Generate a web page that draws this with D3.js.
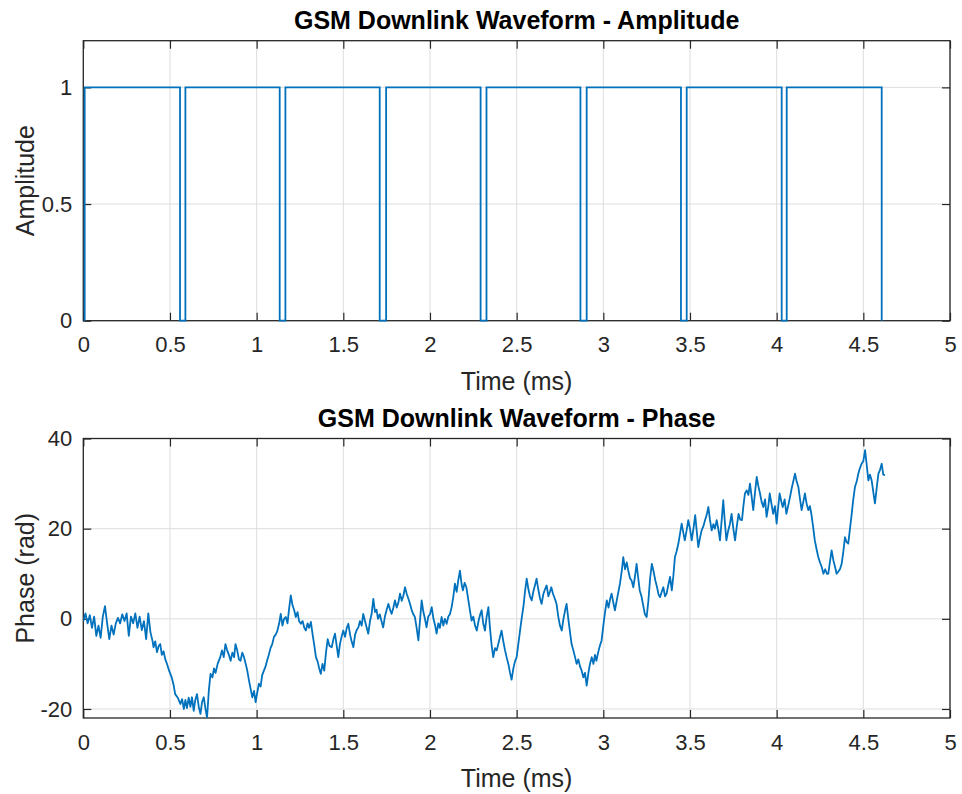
<!DOCTYPE html>
<html>
<head>
<meta charset="utf-8">
<script src="https://cdn.jsdelivr.net/npm/d3@7"></script>
<style>
  body { margin: 0; background: #fff; }
  svg { display: block; font-family: "Liberation Sans", Arial, Helvetica, sans-serif; }
  .tick text { fill: #262626; }
</style>
</head>
<body>
<svg id="chart" width="962" height="794"></svg>
<script>
// tick values (ms) shared by both plots
let timeTicks = [0, 0.5, 1, 1.5, 2, 2.5, 3, 3.5, 4, 4.5, 5]
let ampTicks = [0, 0.5, 1]
let phaseTicks = [-20, 0, 20, 40]

// burst on/off times (ms)
let burstStart = [0.008, 0.589, 1.166, 1.747, 2.326, 2.904, 3.481, 4.058]
let burstEnd = [0.558, 1.133, 1.710, 2.292, 2.868, 3.448, 4.029, 4.606]

// phase trace
let phaseT = [
  0.0, 0.0125, 0.025, 0.0375, 0.05, 0.0625, 0.075, 0.0875, 0.1, 0.1125, 0.125, 0.1375, 0.15, 0.1625, 0.175, 0.1875,
  0.2, 0.2125, 0.225, 0.2375, 0.25, 0.2625, 0.275, 0.2875, 0.3, 0.3125, 0.325, 0.3375, 0.35, 0.3625, 0.375, 0.3875, 0.4,
  0.405, 0.415, 0.425, 0.435, 0.444, 0.453, 0.463, 0.473, 0.483, 0.495, 0.51, 0.52, 0.53, 0.545, 0.56, 0.57, 0.58,
  0.589, 0.598, 0.608, 0.618, 0.627, 0.637, 0.646, 0.656, 0.666, 0.676, 0.685, 0.695, 0.705, 0.714, 0.724, 0.734,
  0.745, 0.754, 0.763, 0.775, 0.79, 0.80, 0.81, 0.82, 0.83, 0.84, 0.85, 0.86, 0.87, 0.878, 0.888, 0.898, 0.907,
  0.917, 0.927, 0.937, 0.946, 0.955, 0.965, 0.975, 0.985, 0.994, 1.003, 1.013, 1.023, 1.032, 1.042, 1.052, 1.06,
  1.07, 1.08, 1.09, 1.1, 1.11, 1.12, 1.13, 1.139, 1.149, 1.158, 1.168, 1.178, 1.188, 1.197, 1.207, 1.216, 1.226,
  1.236, 1.245, 1.255, 1.265, 1.275, 1.284, 1.294, 1.303, 1.313, 1.323, 1.333, 1.342, 1.352, 1.361, 1.37, 1.38,
  1.39, 1.40, 1.41, 1.42, 1.433, 1.443, 1.452, 1.462, 1.471, 1.481, 1.49, 1.5, 1.51, 1.52, 1.529, 1.539, 1.548,
  1.558, 1.568, 1.577, 1.587, 1.596, 1.606, 1.615, 1.625, 1.635, 1.644, 1.654, 1.663, 1.673, 1.683, 1.692, 1.70,
  1.71, 1.72, 1.73, 1.74, 1.75, 1.76, 1.77, 1.779, 1.789, 1.798, 1.808, 1.817, 1.827, 1.837, 1.846, 1.856, 1.866,
  1.875, 1.885, 1.894, 1.904, 1.913, 1.923, 1.933, 1.942, 1.952, 1.962, 1.971, 1.98, 1.99, 2.0, 2.01, 2.02, 2.03,
  2.038, 2.048, 2.057, 2.067, 2.077, 2.086, 2.096, 2.106, 2.115, 2.125, 2.135, 2.144, 2.154, 2.163, 2.173, 2.183,
  2.19, 2.2, 2.21, 2.22, 2.23, 2.24, 2.25, 2.26, 2.27, 2.28, 2.29, 2.298, 2.307, 2.317, 2.327, 2.337, 2.346, 2.356,
  2.365, 2.375, 2.385, 2.394, 2.404, 2.413, 2.423, 2.433, 2.442, 2.452, 2.462, 2.471, 2.481, 2.49, 2.5, 2.51, 2.52,
  2.53, 2.54, 2.548, 2.558, 2.568, 2.577, 2.587, 2.596, 2.606, 2.615, 2.625, 2.635, 2.644, 2.654, 2.663, 2.673,
  2.683, 2.692, 2.70, 2.71, 2.72, 2.73, 2.74, 2.75, 2.76, 2.77, 2.78, 2.788, 2.798, 2.808, 2.817, 2.827, 2.837,
  2.846, 2.856, 2.865, 2.875, 2.885, 2.894, 2.904, 2.914, 2.923, 2.933, 2.943, 2.952, 2.96, 2.97, 2.98, 2.99, 3.0,
  3.01, 3.02, 3.03, 3.04, 3.048, 3.058, 3.067, 3.077, 3.087, 3.096, 3.106, 3.115, 3.125, 3.135, 3.144, 3.154,
  3.163, 3.173, 3.183, 3.192, 3.2, 3.21, 3.22, 3.23, 3.24, 3.25, 3.26, 3.27, 3.28, 3.29, 3.3, 3.31, 3.318, 3.327,
  3.337, 3.346, 3.356, 3.365, 3.375, 3.385, 3.395, 3.404, 3.413, 3.423, 3.433, 3.443, 3.452, 3.462, 3.47, 3.48,
  3.49, 3.5, 3.51, 3.52, 3.53, 3.54, 3.548, 3.558, 3.567, 3.577, 3.587, 3.596, 3.606, 3.615, 3.625, 3.635, 3.644,
  3.654, 3.663, 3.673, 3.683, 3.692, 3.7, 3.71, 3.72, 3.73, 3.74, 3.75, 3.76, 3.77, 3.78, 3.79, 3.8, 3.808, 3.817,
  3.827, 3.837, 3.846, 3.856, 3.865, 3.875, 3.885, 3.894, 3.904, 3.913, 3.923, 3.933, 3.942, 3.952, 3.96, 3.97,
  3.98, 3.99, 4.0, 4.008, 4.017, 4.027, 4.035, 4.046, 4.056, 4.066, 4.077, 4.087, 4.096, 4.106, 4.115, 4.125,
  4.135, 4.144, 4.154, 4.163, 4.173, 4.183, 4.192, 4.2, 4.21, 4.22, 4.23, 4.24, 4.25, 4.26, 4.27, 4.28, 4.29,
  4.298, 4.307, 4.317, 4.327, 4.337, 4.346, 4.356, 4.365, 4.375, 4.385, 4.394, 4.404, 4.413, 4.423, 4.433, 4.442,
  4.452, 4.462, 4.471, 4.481, 4.49, 4.5, 4.51, 4.52, 4.529, 4.538, 4.548, 4.558, 4.567, 4.577, 4.587, 4.596,
  4.606, 4.615, 4.625
]
let phaseV = [
  -0.5, 1.2, -1.0, 0.8, -2.0, 0.5, -3.8, -1.5, -4.2, 0.5, 2.8, -1.0, -4.5, -1.5, -3.5, -1.0,
  0.2, -1.0, 1.0, -0.5, 1.2, -3.8, 0.5, -1.0, 1.2, -2.0, 0.5, -2.5, -0.5, -4.5, 1.2, -3.0, -5.0,
  -6.3, -5.0, -7.4, -6.0, -5.6, -8.0, -7.2, -9.0, -10.0, -11.5, -13.0, -14.5, -16.7, -17.5, -18.9, -17.8, -20.0,
  -18.0, -19.8, -17.5, -19.5, -17.4, -20.4, -18.0, -16.7, -19.5, -21.1, -18.5, -17.4, -20.0, -21.9, -16.0, -12.2,
  -13.0, -11.0, -12.0, -10.0, -8.5, -7.0, -8.5, -5.6, -7.0, -8.0, -9.3, -7.5, -8.5, -5.6, -7.0, -9.0, -9.3,
  -7.5, -8.5, -10.0, -11.5, -13.5, -15.5, -17.4, -16.0, -18.5, -16.5, -14.4, -15.0, -12.5, -11.5, -10.5, -9.3,
  -8.0, -6.5, -5.6, -4.0, -3.5, -2.6, -1.0, 1.1, -1.5, 0.0, 0.4, -1.0, 2.5, 5.2, 3.0, 2.0, 0.4,
  1.5, -0.5, -1.1, -0.5, -2.0, -2.6, -1.0, -2.0, -0.7, -3.5, -6.0, -8.5, -9.5, -11.0, -12.2, -10.0,
  -11.5, -7.5, -4.5, -6.0, -6.3, -4.5, -3.3, -6.0, -8.5, -5.5, -4.0, -2.6, -4.0, -2.0, -1.1, -3.5, -5.0,
  -6.3, -3.5, -2.5, -1.9, -0.5, -1.5, 1.1, -0.5, -2.0, -3.3, -0.5, 1.0, 4.4, 1.5, 2.0, 0.0,
  1.0, -0.5, -1.9, 0.5, 2.0, 3.3, 2.0, 1.1, 2.5, 4.1, 2.5, 3.5, 5.6, 4.0, 5.0, 7.0, 5.5,
  4.5, 3.3, 2.0, 1.0, 0.4, -2.0, -4.8, -0.5, 4.1, 1.5, 0.0, -1.9, 0.5, 1.0, 2.6, 0.0, -1.5,
  -3.3, -1.0, -2.0, 0.4, -1.5, 0.0, -1.1, 0.5, 1.0, 2.6, 5.0, 7.8, 6.0, 8.5, 10.7, 7.5,
  6.3, 8.0, 7.0, 4.5, 2.0, -0.4, 0.5, -1.5, -2.6, -0.5, 1.0, 1.9, -1.0, -2.6, 0.5, 2.6, -2.0, -6.0,
  -8.5, -6.5, -7.0, -5.6, -4.0, -2.6, -5.0, -7.0, -8.5, -10.0, -12.0, -13.5, -11.0, -9.5, -8.5, -5.5, -2.5,
  0.4, 3.0, 6.0, 8.9, 6.5, 5.0, 4.1, 6.0, 7.5, 8.9, 6.5, 4.5, 3.3, 5.5, 6.5, 7.4,
  5.0, 6.0, 7.0, 5.5, 4.5, 3.3, 0.5, -1.5, -2.6, 0.0, 2.0, 3.3, 0.0, -3.0, -5.6, -7.0, -8.5,
  -10.0, -9.0, -10.5, -11.5, -13.0, -12.0, -14.8, -12.0, -10.0, -8.5, -10.0, -8.0, -9.3, -7.5, -6.0, -4.8, -1.5,
  1.5, 4.1, 2.5, 4.5, 5.6, 3.5, 1.9, 4.0, 6.0, 7.8, 10.5, 13.7, 11.0, 12.5, 10.7, 9.0,
  8.5, 7.0, 9.5, 12.2, 9.5, 6.3, 5.0, 3.0, 1.0, 0.4, 4.0, 9.0, 12.2, 10.5, 8.5, 7.0, 5.5, 4.8,
  6.0, 7.0, 5.0, 5.6, 7.5, 9.3, 6.3, 9.5, 13.7, 15.0, 16.7, 19.0, 21.1, 19.0, 17.4, 19.5,
  21.9, 20.0, 17.4, 20.0, 23.0, 19.0, 15.9, 18.0, 19.6, 20.5, 21.9, 23.0, 24.8, 22.0, 19.6, 21.0, 20.0,
  21.9, 20.0, 17.4, 22.0, 26.3, 22.0, 17.4, 19.5, 21.0, 23.3, 20.0, 17.4, 20.5, 23.3, 22.0, 21.9, 25.0, 27.8,
  28.5, 27.5, 30.0, 27.0, 24.1, 28.0, 31.5, 29.5, 27.8, 26.0, 24.8, 26.5, 22.6, 25.0, 27.8, 25.5,
  23.3, 25.0, 21.1, 24.5, 27.8, 26.0, 24.8, 26.5, 23.3, 25.0, 27.0, 29.0, 30.5, 32.2, 30.5, 29.3,
  26.5, 24.1, 26.0, 27.8, 25.5, 24.1, 25.0, 23.3, 20.5, 17.4, 15.5, 13.7, 12.5, 11.5, 10.0, 11.0, 10.0,
  10.0, 12.5, 15.2, 13.0, 11.5, 10.0, 10.5, 11.0, 12.2, 15.0, 18.1, 17.0, 16.7, 20.0, 23.3, 26.5,
  29.3, 30.5, 32.2, 33.5, 34.4, 35.0, 37.4, 34.0, 30.7, 32.0, 30.7, 28.0, 25.6, 29.0, 32.2, 33.0,
  34.4, 32.0, 31.9
]

let svg = d3.select("#chart")
let left = 83.3, right = 950
let ink = "#262626"
let blue = "#0072BD"

let x = d3.scaleLinear().domain([0, 5]).range([left, right])

function drawAxes(g, y, yTicks, top, bottom, title, ylabel) {
  // grid
  g.append("g").selectAll("line").data(timeTicks).join("line")
    .attr("x1", d => x(d)).attr("x2", d => x(d))
    .attr("y1", top).attr("y2", bottom)
    .attr("stroke", "#dedede").attr("stroke-width", 1)
  g.append("g").selectAll("line").data(yTicks).join("line")
    .attr("x1", left).attr("x2", right)
    .attr("y1", d => y(d)).attr("y2", d => y(d))
    .attr("stroke", "#dedede").attr("stroke-width", 1)

  let fmt = d => String(d)
  let styleAxis = a => {
    a.select(".domain").remove()
    a.selectAll(".tick line").attr("stroke", ink).attr("stroke-width", 1.2)
    a.selectAll(".tick text").attr("font-size", 22).attr("fill", ink)
  }

  g.append("g").attr("transform", `translate(0,${bottom})`)
    .call(d3.axisBottom(x).tickValues(timeTicks).tickFormat(fmt).tickSize(-8).tickPadding(16))
    .call(styleAxis)
  g.append("g").attr("transform", `translate(0,${top})`)
    .call(d3.axisTop(x).tickValues(timeTicks).tickFormat("").tickSize(-8))
    .call(styleAxis)
  g.append("g").attr("transform", `translate(${left},0)`)
    .call(d3.axisLeft(y).tickValues(yTicks).tickFormat(fmt).tickSize(-8).tickPadding(11))
    .call(styleAxis)
  g.append("g").attr("transform", `translate(${right},0)`)
    .call(d3.axisRight(y).tickValues(yTicks).tickFormat("").tickSize(-8))
    .call(styleAxis)

  // box
  g.append("rect")
    .attr("x", left).attr("y", top)
    .attr("width", right - left).attr("height", bottom - top)
    .attr("fill", "none").attr("stroke", ink).attr("stroke-width", 1.3)

  g.append("text")
    .attr("x", (left + right) / 2).attr("y", top - 12)
    .attr("text-anchor", "middle")
    .attr("font-size", 25).attr("font-weight", "bold").attr("fill", "#000")
    .text(title)

  g.append("text")
    .attr("x", (left + right) / 2).attr("y", bottom + 69)
    .attr("text-anchor", "middle")
    .attr("font-size", 25).attr("fill", ink)
    .text("Time (ms)")

  g.append("text")
    .attr("transform", `translate(34,${(top + bottom) / 2}) rotate(-90)`)
    .attr("text-anchor", "middle")
    .attr("font-size", 25).attr("fill", ink)
    .text(ylabel)
}

// amplitude plot
let top1 = 40.7, bottom1 = 320.7
let yAmp = d3.scaleLinear().domain([0, 1.2]).range([bottom1, top1])
let g1 = svg.append("g")
drawAxes(g1, yAmp, ampTicks, top1, bottom1, "GSM Downlink Waveform - Amplitude", "Amplitude")

let ampPts = []
burstStart.forEach((s, i) => {
  ampPts.push([s, 0], [s, 1], [burstEnd[i], 1], [burstEnd[i], 0])
})
let ampLine = d3.line().x(d => x(d[0])).y(d => yAmp(d[1]))
g1.append("path")
  .datum(ampPts)
  .attr("d", ampLine)
  .attr("fill", "none")
  .attr("stroke", blue)
  .attr("stroke-width", 1.8)

// phase plot
let top2 = 438.5, bottom2 = 718
let yPh = d3.scaleLinear().domain([-22, 40]).range([bottom2, top2])
let g2 = svg.append("g")
drawAxes(g2, yPh, phaseTicks, top2, bottom2, "GSM Downlink Waveform - Phase", "Phase (rad)")

svg.append("clipPath").attr("id", "clip2")
  .append("rect").attr("x", left).attr("y", top2)
  .attr("width", right - left).attr("height", bottom2 - top2)

let phLine = d3.line().x((d, i) => x(phaseT[i])).y(d => yPh(d))
g2.append("path")
  .datum(phaseV)
  .attr("d", phLine)
  .attr("clip-path", "url(#clip2)")
  .attr("fill", "none")
  .attr("stroke", blue)
  .attr("stroke-width", 1.8)
  .attr("stroke-linejoin", "round")
</script>
</body>
</html>
